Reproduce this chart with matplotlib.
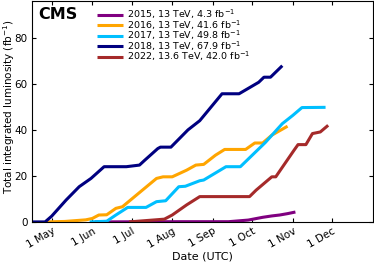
import matplotlib
matplotlib.use("Agg")
import matplotlib.pyplot as plt

# Day offsets counted from 1 May, integrated luminosity in fb^-1
days_2015 = [33, 60, 100, 135, 150, 161, 168, 174, 180, 186]
lumi_2015 = [0.0, 0.05, 0.1, 0.1, 0.8, 2.0, 2.6, 3.0, 3.6, 4.3]

days_2016 = [-5, 10, 26, 31, 36, 42, 49, 54, 80, 85, 92, 103, 110, 116, 125, 132, 148, 155, 161, 168, 180]
lumi_2016 = [0.0, 0.2, 0.9, 1.5, 3.0, 3.1, 5.9, 6.6, 18.9, 19.6, 19.6, 22.5, 24.7, 25.0, 29.0, 31.5, 31.5, 34.3, 34.3, 37.7, 41.6]

days_2017 = [29, 42, 49, 58, 72, 80, 87, 97, 102, 113, 116, 133, 144, 163, 176, 184, 191, 209]
lumi_2017 = [0.0, 0.3, 3.0, 6.3, 6.3, 8.8, 9.2, 15.3, 15.5, 17.9, 18.2, 24.0, 24.0, 34.5, 42.7, 46.3, 49.7, 49.8]

days_2018 = [-15, -5, 0, 11, 21, 30, 40, 57, 67, 71, 81, 83, 91, 104, 113, 130, 143, 158, 162, 167, 176]
lumi_2018 = [0.0, 0.0, 2.5, 9.5, 15.3, 18.9, 24.0, 24.0, 24.7, 26.8, 31.9, 32.5, 32.5, 40.0, 44.0, 55.7, 55.7, 60.7, 62.9, 62.9, 67.9]

days_2022 = [59, 86, 92, 103, 108, 113, 151, 156, 168, 171, 185, 188, 194, 199, 205, 211]
lumi_2022 = [0.0, 1.2, 3.0, 7.4, 9.2, 11.0, 11.0, 13.8, 19.6, 19.6, 31.2, 33.6, 33.6, 38.4, 39.1, 42.0]

labels = ["2015, 13 TeV, 4.3 fb$^{-1}$", "2016, 13 TeV, 41.6 fb$^{-1}$",
          "2017, 13 TeV, 49.8 fb$^{-1}$", "2018, 13 TeV, 67.9 fb$^{-1}$",
          "2022, 13.6 TeV, 42.0 fb$^{-1}$"]
colors = ["#800080", "#FFA500", "#00BFFF", "#000080", "#A52A2A"]

tick_days = [0, 31, 61, 92, 123, 153, 184, 214]
tick_labels = ["1 May", "1 Jun", "1 Jul", "1 Aug", "1 Sep", "1 Oct", "1 Nov", "1 Dec"]
yticks = [0, 20, 40, 60, 80]

fig = plt.figure(figsize=(3.74, 2.62), dpi=100)
ax = fig.add_axes([0.0856, 0.153, 0.911, 0.843])

series = [(days_2015, lumi_2015), (days_2016, lumi_2016), (days_2017, lumi_2017),
          (days_2018, lumi_2018), (days_2022, lumi_2022)]
for (d, v), lab, c in zip(series, labels, colors):
    ax.plot(d, v, color=c, lw=2.2, label=lab, solid_capstyle="butt")

ax.set_xlim(-15, 245)
ax.set_ylim(0, 96)
ax.set_xticks(tick_days)
ax.set_xticklabels(tick_labels, rotation=30, ha="right", rotation_mode="anchor")
ax.set_yticks(yticks)
ax.tick_params(direction="in", top=True, right=True, labelsize=7.5, length=3, pad=3)
ax.set_xlabel("Date (UTC)", fontsize=8, labelpad=1)
ax.set_ylabel("Total integrated luminosity (fb$^{-1}$)", fontsize=7.5)
ax.yaxis.set_label_coords(-0.045, 0.52)

ax.text(0.018, 0.975, "CMS", transform=ax.transAxes, fontsize=11.5, fontweight="bold",
        va="top", ha="left")

leg = ax.legend(loc="upper left", bbox_to_anchor=(0.17, 1.0), frameon=False,
                fontsize=6.8, handlelength=2.8, handletextpad=0.4, labelspacing=-0.33,
                borderpad=0.2)

fig.savefig("out.png", dpi=100)
